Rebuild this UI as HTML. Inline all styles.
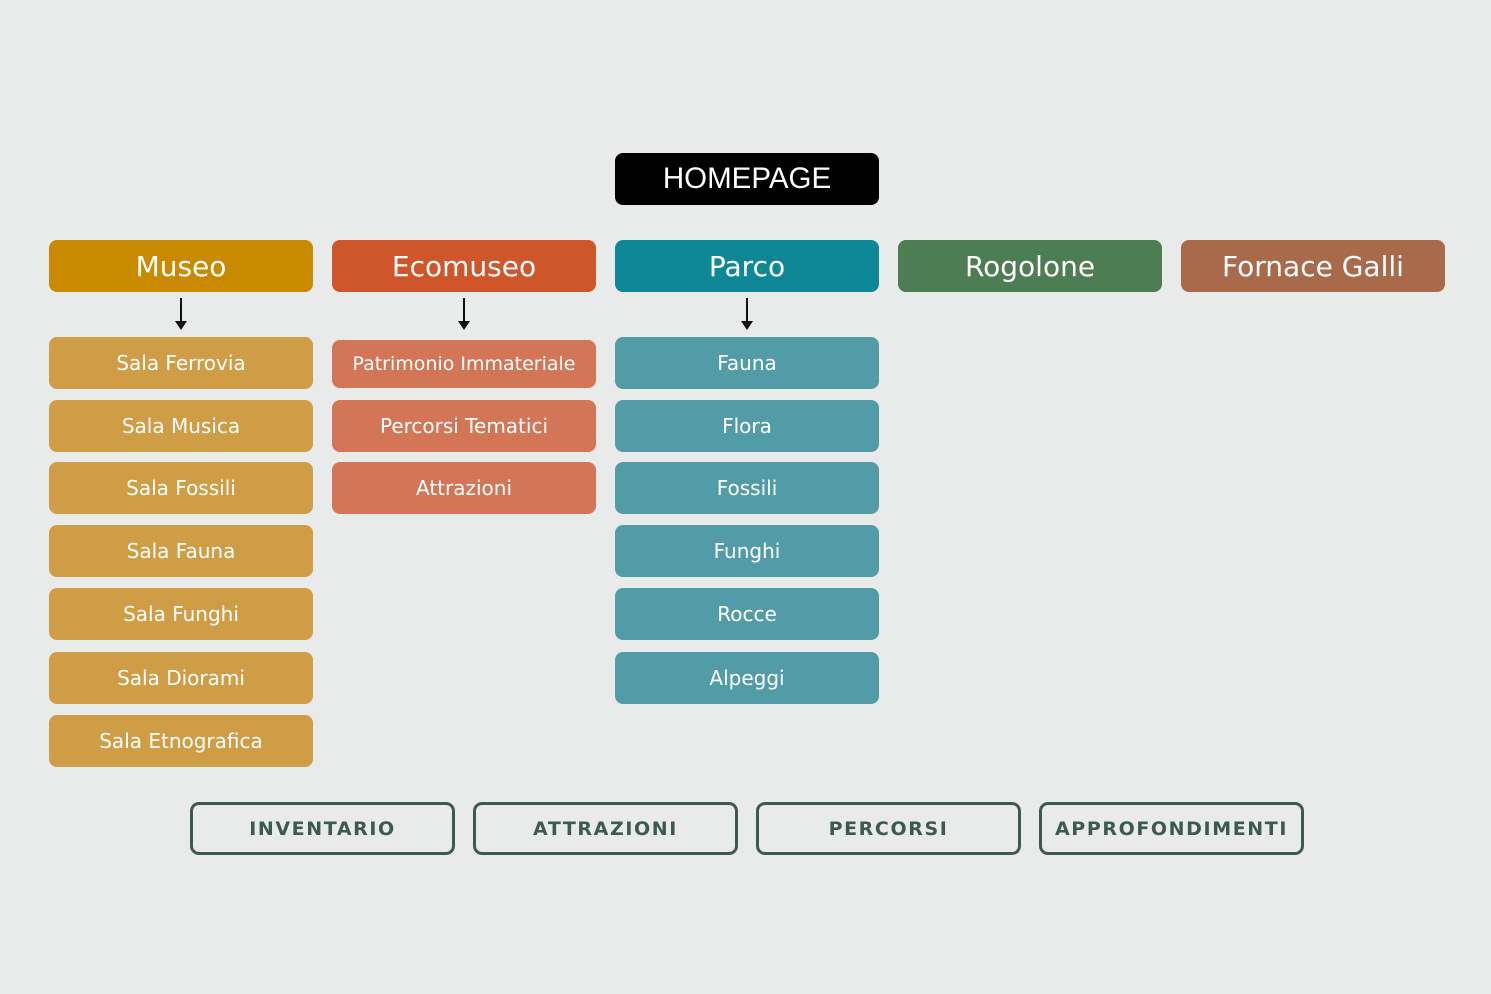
<!DOCTYPE html>
<html><head><meta charset="utf-8"><style>
body{margin:0;width:1491px;height:994px;background:#e9eaea;position:relative;overflow:hidden;font-family:"DejaVu Sans","Liberation Sans",sans-serif}
.b{position:absolute;width:264px;display:flex;align-items:center;justify-content:center;color:#fff;border-radius:8px;box-sizing:border-box}
.h{top:240px;height:52px;font-size:28px}
.s{height:52px;font-size:20px}
.m{background:#d09d47}.e{background:#d37658}.p{background:#529ca8}
.a{position:absolute;width:2px;height:26px;background:#111;top:298px}
.a:after{content:"";position:absolute;left:-5px;bottom:-6px;border-left:6px solid transparent;border-right:6px solid transparent;border-top:9px solid #111}
.f{position:absolute;top:802px;width:265px;height:53px;border:3px solid #3d5a50;border-radius:9px;box-sizing:border-box;display:flex;align-items:center;justify-content:center;color:#3d5a50;font-weight:bold;font-size:19px;letter-spacing:1.6px;font-family:"DejaVu Sans",sans-serif}
</style></head><body>
<div class="b" style="left:615px;top:153px;height:52px;background:#000;font-size:29.5px;font-family:'Liberation Sans',sans-serif">HOMEPAGE</div>
<div class="b h" style="left:49px;background:#c98a00">Museo</div>
<div class="b h" style="left:332px;background:#cf552a">Ecomuseo</div>
<div class="b h" style="left:615px;background:#0e8896">Parco</div>
<div class="b h" style="left:898px;background:#4d7d52">Rogolone</div>
<div class="b h" style="left:1181px;background:#a86a4a">Fornace Galli</div>
<div class="a" style="left:180px"></div><div class="a" style="left:463px"></div><div class="a" style="left:746px"></div>
<div class="b s m" style="left:49px;top:337px">Sala Ferrovia</div>
<div class="b s m" style="left:49px;top:400px">Sala Musica</div>
<div class="b s m" style="left:49px;top:462px">Sala Fossili</div>
<div class="b s m" style="left:49px;top:525px">Sala Fauna</div>
<div class="b s m" style="left:49px;top:588px">Sala Funghi</div>
<div class="b s m" style="left:49px;top:652px">Sala Diorami</div>
<div class="b s m" style="left:49px;top:715px">Sala Etnografica</div>
<div class="b s e" style="left:332px;top:340px;height:48px;font-size:19px">Patrimonio Immateriale</div>
<div class="b s e" style="left:332px;top:400px">Percorsi Tematici</div>
<div class="b s e" style="left:332px;top:462px">Attrazioni</div>
<div class="b s p" style="left:615px;top:337px">Fauna</div>
<div class="b s p" style="left:615px;top:400px">Flora</div>
<div class="b s p" style="left:615px;top:462px">Fossili</div>
<div class="b s p" style="left:615px;top:525px">Funghi</div>
<div class="b s p" style="left:615px;top:588px">Rocce</div>
<div class="b s p" style="left:615px;top:652px">Alpeggi</div>
<div class="f" style="left:190px">INVENTARIO</div>
<div class="f" style="left:473px">ATTRAZIONI</div>
<div class="f" style="left:756px">PERCORSI</div>
<div class="f" style="left:1039px">APPROFONDIMENTI</div>
</body></html>
